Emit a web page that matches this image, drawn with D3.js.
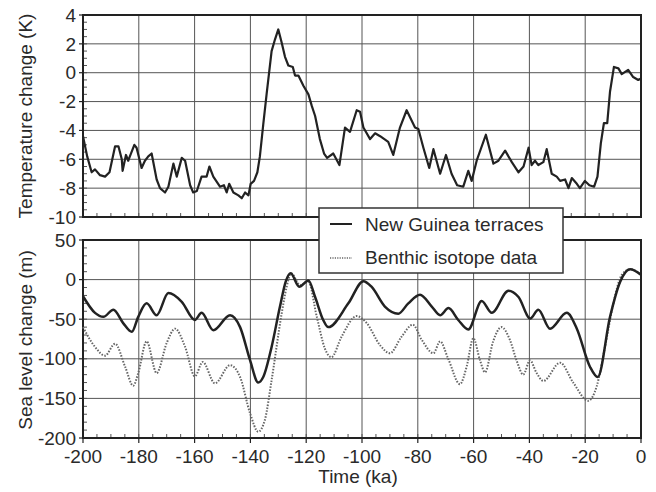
<!DOCTYPE html>
<html>
<head>
<meta charset="utf-8">
<script src="https://cdn.jsdelivr.net/npm/d3@7"></script>
<style>
  body { margin: 0; background: #fff; }
  text { font-family: "Liberation Sans", Arial, sans-serif; fill: #2a2a2a; }
</style>
</head>
<body>
<svg width="656" height="492"></svg>
<script>
// Temperature record (ka, K)
var tempAge = [-200, -198.5, -196.9, -195.7, -193.9, -192.1, -190.5, -188.5, -187.3, -186.1, -185.8, -184.6, -183.8, -183.2,
  -181.6, -180.8, -179.0, -177.8, -176.6, -175.4, -173.6, -172.4, -170.6, -169.4, -167.6, -166.4, -164.6, -163.4,
  -161.6, -160.5, -159.2, -157.5, -155.7, -154.7, -153.3, -150.9, -149.5, -148.5, -147.6, -146.1, -144.3, -143.1,
  -141.9, -140.7, -139.9, -138.7, -137.5, -136.6, -135.4, -134.2, -132.4, -131.2, -130.0, -128.8, -127.6, -126.4,
  -124.8, -124.0, -122.8, -121.0, -119.2, -118.0, -116.8, -115.1, -113.6, -112.5, -110.3, -108.1, -106.1, -104.3,
  -101.9, -100.7, -99.5, -97.1, -95.3, -93.5, -90.6, -88.8, -86.4, -84.0, -81.0, -79.8, -78.0, -75.9, -74.4, -72.0,
  -69.9, -67.9, -65.9, -63.7, -61.9, -60.7, -58.9, -55.6, -52.9, -51.1, -48.7, -46.3, -43.9, -42.1, -40.3, -39.2,
  -38.0, -36.8, -35.0, -33.8, -32.0, -30.2, -29.0, -27.2, -26.0, -24.8, -23.0, -21.9, -20.1, -18.5, -16.8, -15.6,
  -14.4, -13.3, -12.1, -11.1, -9.7, -8.1, -6.9, -4.6, -2.8, -1.0, 0];
var tempK = [-4.4, -5.8, -6.9, -6.7, -7.1, -7.2, -6.9, -5.1, -5.1, -6.0, -6.8, -5.7, -6.1, -5.8,
  -5.0, -5.2, -6.6, -6.1, -5.8, -5.6, -7.4, -8.0, -8.3, -7.9, -6.3, -7.2, -5.9, -6.1,
  -7.8, -8.3, -8.2, -7.2, -7.2, -6.5, -7.2, -7.9, -7.8, -8.3, -7.7, -8.3, -8.5, -8.7,
  -8.3, -8.5, -7.7, -7.5, -6.9, -5.8, -3.6, -1.5, 1.5, 2.3, 3.0, 2.1, 1.1, 0.5,
  0.4, -0.2, -0.2, -0.9, -1.5, -2.3, -3.0, -4.6, -5.6, -5.9, -5.6, -6.4, -3.8, -4.1,
  -2.6, -2.7, -3.8, -4.6, -4.2, -4.4, -4.8, -5.7, -3.8, -2.6, -3.8, -3.9, -5.2, -6.6, -5.3, -7.0,
  -5.7, -7.0, -7.8, -7.9, -6.8, -7.5, -6.1, -4.3, -6.3, -6.1, -5.4, -6.2, -6.9, -6.5, -5.2, -6.4,
  -6.1, -6.4, -6.2, -5.3, -7.0, -7.2, -7.5, -7.4, -8.0, -7.3, -7.7, -8.0, -7.5, -7.8, -7.9, -7.2,
  -4.9, -3.5, -3.5, -1.3, 0.4, 0.3, -0.1, 0.2, -0.3, -0.5, -0.4];

// Sea level, New Guinea terraces (ka, m)
var guineaAge = [-200, -195.7, -192.7, -189.1, -185.6, -182.5, -180.2, -177.2, -173.6, -169.4, -164.6, -159.9, -157.5,
  -153.3, -147.3, -143.7, -140.1, -137.2, -135.4, -132.4, -129.4, -127.2, -125.6, -122.5, -119.2, -116.8, -113.9,
  -112.1, -104.9, -99.5, -96.6, -91.8, -87.0, -83.4, -79.2, -75.0, -72.0, -69.0, -65.5, -61.9, -57.1, -53.5,
  -47.5, -43.9, -39.7, -36.8, -32.6, -26.6, -23.0, -18.3, -15.5, -11.1, -7.5, -3.9, 0];
var guineaSea = [-21, -42, -47, -38, -55, -66, -47, -30, -45, -17, -28, -51, -42,
  -64, -45, -60, -102, -130, -123, -85, -34, -1, 8, -9, -1, -22, -51,
  -60, -30, -2, -9, -34, -43, -30, -19, -34, -45, -36, -51, -63, -27, -42,
  -14, -22, -49, -38, -62, -42, -62, -110, -123, -47, -3, 13, 6];

// Sea level, benthic isotope data (ka, m)
var benthicAge = [-200, -195.7, -192.1, -188.5, -184.9, -182.0, -180.2, -177.2, -173.6, -170.0, -167.0, -163.4, -159.9,
  -157.1, -152.7, -147.3, -143.7, -140.1, -137.2, -134.8, -132.4, -128.8, -127.0, -125.4, -122.2, -119.2, -116.2,
  -113.3, -111.0, -107.3, -101.9, -98.3, -93.5, -90.0, -85.8, -81.8, -78.6, -74.4, -72.0, -69.1, -64.9, -62.5,
  -60.1, -57.7, -55.9, -53.0, -50.0, -47.0, -44.6, -42.2, -39.8, -37.4, -35.0, -29.0, -24.3, -18.9, -15.9,
  -12.9, -9.9, -6.9, -3.9, 0];
var benthicSea = [-60, -85, -96, -81, -110, -134, -118, -78, -118, -80, -62, -85, -122,
  -104, -131, -108, -123, -169, -192, -177, -127, -43, -9, 8, -7, -3, -47,
  -87, -98, -72, -46, -55, -83, -93, -72, -57, -76, -93, -78, -100, -132, -110,
  -74, -102, -117, -78, -60, -76, -102, -120, -102, -118, -128, -105, -130, -153, -135,
  -85, -30, 6, 13, 6];

var xTicks = [-200, -180, -160, -140, -120, -100, -80, -60, -40, -20, 0];
var tempTicks = [4, 2, 0, -2, -4, -6, -8, -10];
var seaTicks = [50, 0, -50, -100, -150, -200];

var svg = d3.select("svg");
var left = 83, right = 641;
var ink = "#222";

var x = d3.scaleLinear().domain([-200, 0]).range([left, right]);
var yT = d3.scaleLinear().domain([-10, 4]).range([217, 15]);
var yS = d3.scaleLinear().domain([-200, 50]).range([438, 240]);

// draws grid, minor ticks, frame and y labels of one panel
function drawPanel(y, yTicks, yMinorStep) {
  var g = svg.append("g");
  var y0 = y.range()[0], y1 = y.range()[1];

  g.selectAll(".vg").data(xTicks.slice(1, -1)).enter().append("line")
    .attr("x1", d => x(d)).attr("x2", d => x(d))
    .attr("y1", y1).attr("y2", y0)
    .attr("stroke", "#555").attr("stroke-width", 1);
  g.selectAll(".hg").data(yTicks.slice(1, -1)).enter().append("line")
    .attr("x1", left).attr("x2", right)
    .attr("y1", d => y(d)).attr("y2", d => y(d))
    .attr("stroke", "#555").attr("stroke-width", 1);

  // minor ticks inside
  var xm = d3.range(-195, 0, 5);
  g.selectAll(".xm").data(xm).enter().append("line")
    .attr("x1", d => x(d)).attr("x2", d => x(d))
    .attr("y1", y0).attr("y2", y0 - 4)
    .attr("stroke", "#555").attr("stroke-width", 1);
  var d = y.domain();
  var ym = d3.range(d[0] + yMinorStep, d[1], yMinorStep);
  g.selectAll(".ym").data(ym).enter().append("line")
    .attr("x1", left).attr("x2", left + 4)
    .attr("y1", v => y(v)).attr("y2", v => y(v))
    .attr("stroke", "#555").attr("stroke-width", 1);

  // major ticks outside
  g.selectAll(".yM").data(yTicks).enter().append("line")
    .attr("x1", left - 4).attr("x2", left)
    .attr("y1", v => y(v)).attr("y2", v => y(v))
    .attr("stroke", ink).attr("stroke-width", 1.2);

  g.append("rect")
    .attr("x", left).attr("y", y1)
    .attr("width", right - left).attr("height", y0 - y1)
    .attr("fill", "none").attr("stroke", ink).attr("stroke-width", 2);

  g.selectAll(".yl").data(yTicks).enter().append("text")
    .attr("x", left - 7).attr("y", v => y(v)).attr("dy", "0.35em")
    .attr("text-anchor", "end").attr("font-size", 19)
    .text(v => v);
  return g;
}

drawPanel(yT, tempTicks, 0.5);
drawPanel(yS, seaTicks, 10);

// x axis labels below bottom panel
svg.selectAll(".xt").data(xTicks).enter().append("line")
  .attr("x1", d => x(d)).attr("x2", d => x(d))
  .attr("y1", 438).attr("y2", 443)
  .attr("stroke", ink).attr("stroke-width", 1.2);
svg.selectAll(".xl").data(xTicks).enter().append("text")
  .attr("x", d => x(d)).attr("y", 463)
  .attr("text-anchor", "middle").attr("font-size", 19)
  .text(d => d);

// lines
var tempLine = d3.line().x(d => x(d[0])).y(d => yT(d[1]));
svg.append("path")
  .datum(d3.zip(tempAge, tempK))
  .attr("d", tempLine)
  .attr("fill", "none").attr("stroke", ink).attr("stroke-width", 2.2)
  .attr("stroke-linejoin", "round");

var seaLine = d3.line().x(d => x(d[0])).y(d => yS(d[1])).curve(d3.curveMonotoneX);
svg.append("path")
  .datum(d3.zip(benthicAge, benthicSea))
  .attr("d", seaLine)
  .attr("fill", "none").attr("stroke", "#666").attr("stroke-width", 2)
  .attr("stroke-dasharray", "1.5,1.5");
svg.append("path")
  .datum(d3.zip(guineaAge, guineaSea))
  .attr("d", seaLine)
  .attr("fill", "none").attr("stroke", ink).attr("stroke-width", 2.5);

// legend
var lg = svg.append("g");
lg.append("rect").attr("x", 319).attr("y", 208).attr("width", 244).attr("height", 65)
  .attr("fill", "#fff").attr("stroke", "#333").attr("stroke-width", 1.5);
lg.append("line").attr("x1", 330).attr("x2", 352).attr("y1", 224).attr("y2", 224)
  .attr("stroke", ink).attr("stroke-width", 2);
lg.append("line").attr("x1", 330).attr("x2", 352).attr("y1", 258).attr("y2", 258)
  .attr("stroke", "#666").attr("stroke-width", 1.5).attr("stroke-dasharray", "1.2,1.2");
lg.append("text").attr("x", 365).attr("y", 231).attr("font-size", 19).text("New Guinea terraces");
lg.append("text").attr("x", 365).attr("y", 264).attr("font-size", 19).text("Benthic isotope data");

// axis titles
svg.append("text").attr("transform", "translate(32,116) rotate(-90)")
  .attr("text-anchor", "middle").attr("font-size", 19).text("Temperature change (K)");
svg.append("text").attr("transform", "translate(32,340) rotate(-90)")
  .attr("text-anchor", "middle").attr("font-size", 19).text("Sea level change (m)");
svg.append("text").attr("x", 358).attr("y", 483)
  .attr("text-anchor", "middle").attr("font-size", 19).text("Time (ka)");
</script>
</body>
</html>
